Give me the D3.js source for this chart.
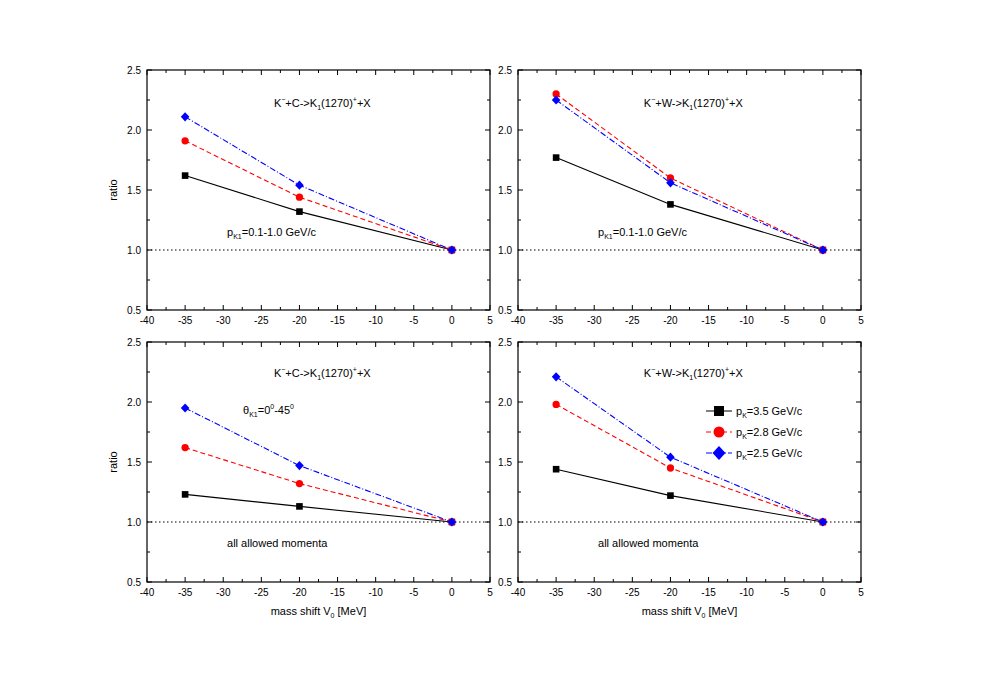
<!DOCTYPE html>
<html><head><meta charset="utf-8">
<script src="https://cdn.jsdelivr.net/npm/d3@7"></script>
<style>body{margin:0;background:#fff}text{font-family:Arial,"Liberation Sans",sans-serif}</style>
</head><body><svg id="c" width="981" height="688"></svg>
<script>
var shifts = [-35, -20, 0];
var xTicks = [-40, -35, -30, -25, -20, -15, -10, -5, 0, 5];
var yTicks = [0.5, 1.0, 1.5, 2.0, 2.5];
var seriesNames = ["3.5", "2.8", "2.5"];
var tlValues = [[1.62, 1.32, 1.0], [1.91, 1.44, 1.0], [2.11, 1.54, 1.0]];
var trValues = [[1.77, 1.38, 1.0], [2.30, 1.60, 1.0], [2.25, 1.56, 1.0]];
var blValues = [[1.23, 1.13, 1.0], [1.62, 1.32, 1.0], [1.95, 1.47, 1.0]];
var brValues = [[1.44, 1.22, 1.0], [1.98, 1.45, 1.0], [2.21, 1.54, 1.0]];

var colors = ["#000", "#ff0000", "#0000ff"],
    dashes = [null, "5,3", "6,2,1,2"],
    svg = d3.select("#c");

var panels = [
  {x0: 147, y0: 70, vals: tlValues, target: "C", note: "pk1", yl: true, ty: 33},
  {x0: 518, y0: 70, vals: trValues, target: "W", note: "pk1", ty: 33},
  {x0: 147, y0: 342, vals: blValues, target: "C", note: "theta", yl: true, xl: true, ty: 31},
  {x0: 518, y0: 342, vals: brValues, target: "W", note: "all", xl: true, legend: true, ty: 31}
];
var W = 343, H = 240;

function sym(g, i, x, y, s) {
  if (i == 0) g.append("rect").attr("x", x - s).attr("y", y - s).attr("width", 2 * s).attr("height", 2 * s).attr("fill", colors[0]);
  else if (i == 1) g.append("circle").attr("cx", x).attr("cy", y).attr("r", s * 1.1).attr("fill", colors[1]);
  else g.append("path").attr("d", `M${x},${y - s * 1.4}L${x + s * 1.3},${y}L${x},${y + s * 1.4}L${x - s * 1.3},${y}Z`).attr("fill", colors[2]);
}

panels.forEach(function(p) {
  var g = svg.append("g").attr("transform", `translate(${p.x0},${p.y0})`);
  var x = d3.scaleLinear().domain([-40, 5]).range([0, W]);
  var y = d3.scaleLinear().domain([0.5, 2.5]).range([H, 0]);

  // ticks (inward, all four sides)
  var xMinor = d3.range(-40, 5.01, 2.5), yMinor = d3.range(0.5, 2.51, 0.25);
  xMinor.forEach(function(v) {
    var L = (v % 5 == 0) ? 5 : 3;
    g.append("line").attr("x1", x(v)).attr("x2", x(v)).attr("y1", H).attr("y2", H - L).attr("stroke", "#000");
    g.append("line").attr("x1", x(v)).attr("x2", x(v)).attr("y1", 0).attr("y2", L).attr("stroke", "#000");
  });
  yMinor.forEach(function(v) {
    var L = (Math.abs(v * 2 - Math.round(v * 2)) < 1e-6) ? 5 : 3;
    g.append("line").attr("x1", 0).attr("x2", L).attr("y1", y(v)).attr("y2", y(v)).attr("stroke", "#000");
    g.append("line").attr("x1", W).attr("x2", W - L).attr("y1", y(v)).attr("y2", y(v)).attr("stroke", "#000");
  });
  xTicks.forEach(function(v) {
    g.append("text").attr("x", x(v)).attr("y", H + 14).attr("text-anchor", "middle").attr("font-size", 10).text(v);
  });
  yTicks.forEach(function(v) {
    g.append("text").attr("x", -6).attr("y", y(v) + 4).attr("text-anchor", "end").attr("font-size", 10).text(v.toFixed(1));
  });
  g.append("rect").attr("width", W).attr("height", H).attr("fill", "none").attr("stroke", "#000").attr("stroke-width", 1.2);

  g.append("line").attr("x1", 0).attr("x2", W).attr("y1", y(1)).attr("y2", y(1))
    .attr("stroke", "#000").attr("stroke-dasharray", "1.5,2.5");

  var line = d3.line().x(function(d, i) { return x(shifts[i]); }).y(function(d) { return y(d); });
  p.vals.forEach(function(s, i) {
    g.append("path").attr("d", line(s)).attr("fill", "none").attr("stroke", colors[i])
      .attr("stroke-width", 1.1).attr("stroke-dasharray", dashes[i]);
  });
  p.vals.forEach(function(s, i) {
    s.forEach(function(v, j) { sym(g, i, x(shifts[j]), y(v), 3.3); });
  });

  // title
  var t = g.append("text").attr("x", x(-17)).attr("y", p.ty + 4).attr("text-anchor", "middle").attr("font-size", 11);
  t.append("tspan").text("K");
  t.append("tspan").attr("font-size", 7).attr("dy", -5).text("\u2212");
  t.append("tspan").attr("dy", 5).text("+" + p.target + "->K");
  t.append("tspan").attr("font-size", 7).attr("dy", 3).text("1");
  t.append("tspan").attr("dy", -3).text("(1270)");
  t.append("tspan").attr("font-size", 7).attr("dy", -5).text("+");
  t.append("tspan").attr("dy", 5).text("+X");

  if (p.note == "pk1") {
    var n = g.append("text").attr("x", x(-29.5)).attr("y", y(1.12)).attr("font-size", 11);
    n.append("tspan").text("p");
    n.append("tspan").attr("font-size", 7).attr("dy", 3).text("K1");
    n.append("tspan").attr("dy", -3).text("=0.1-1.0 GeV/c");
  } else if (p.note == "theta") {
    var n = g.append("text").attr("x", x(-27.4)).attr("y", y(1.9)).attr("font-size", 11);
    n.append("tspan").text("\u03b8");
    n.append("tspan").attr("font-size", 7).attr("dy", 3).text("K1");
    n.append("tspan").attr("dy", -3).text("=0");
    n.append("tspan").attr("font-size", 7).attr("dy", -5).text("0");
    n.append("tspan").attr("dy", 5).text("-45");
    n.append("tspan").attr("font-size", 7).attr("dy", -5).text("0");
  }
  if (p.xl) {
    g.append("text").attr("x", x(-29.5)).attr("y", y(0.79)).attr("font-size", 11).text("all allowed momenta");
    var xl = g.append("text").attr("x", W / 2).attr("y", H + 33).attr("text-anchor", "middle").attr("font-size", 11);
    xl.append("tspan").text("mass shift V");
    xl.append("tspan").attr("font-size", 7).attr("dy", 3).text("0");
    xl.append("tspan").attr("dy", -3).text(" [MeV]");
  }
  if (p.yl) {
    g.append("text").attr("transform", `translate(-30,${H / 2}) rotate(-90)`).attr("text-anchor", "middle").attr("font-size", 11).text("ratio");
  }
  if (p.legend) {
    seriesNames.forEach(function(nm, i) {
      var ly = 69 + i * 21, lx = 188;
      g.append("line").attr("x1", lx).attr("x2", lx + 26).attr("y1", ly).attr("y2", ly)
        .attr("stroke", colors[i]).attr("stroke-dasharray", dashes[i]);
      sym(g, i, lx + 13, ly, 5);
      var tt = g.append("text").attr("x", lx + 30).attr("y", ly + 4).attr("font-size", 11);
      tt.append("tspan").text("p");
      tt.append("tspan").attr("font-size", 7).attr("dy", 3).text("K");
      tt.append("tspan").attr("dy", -3).text("=" + nm + " GeV/c");
    });
  }
});
</script></body></html>
